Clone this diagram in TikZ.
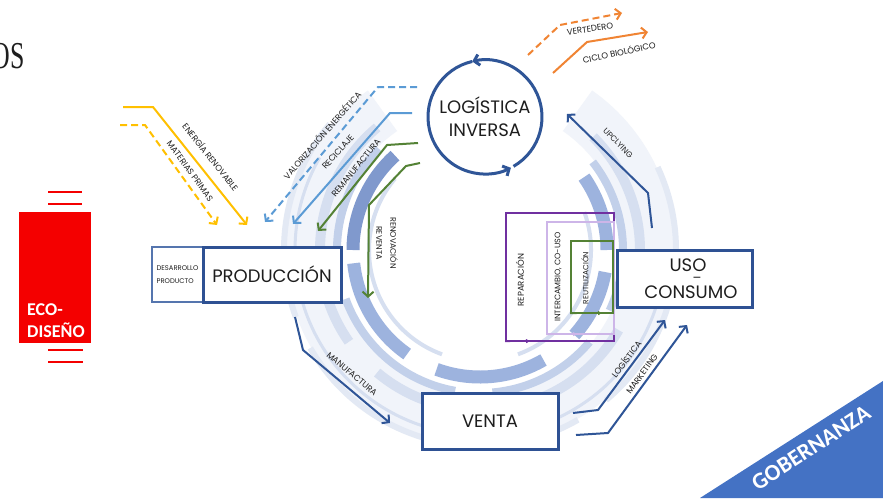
\documentclass[tikz,border=0pt]{standalone}
\usepackage{fontspec}
\setmainfont{Poppins}
\newfontfamily\carl{Carlito}
\newfontfamily\serifos{Liberation Serif}
\usetikzlibrary{arrows.meta}
\definecolor{boxblue}{HTML}{2E5193}
\definecolor{dblue}{HTML}{2F5597}
\definecolor{lblue}{HTML}{5B9BD5}
\definecolor{ylw}{HTML}{FFC000}
\definecolor{grn}{HTML}{548235}
\definecolor{org}{HTML}{F08433}
\definecolor{purp}{HTML}{7030A0}
\definecolor{lpurp}{HTML}{CDB5E8}
\definecolor{ecored}{HTML}{F40000}
\definecolor{gob}{HTML}{4472C4}
\definecolor{desblue}{HTML}{5575AE}
\definecolor{rgA}{HTML}{F1F4FA}
\definecolor{rgB}{HTML}{E3E9F4}
\definecolor{rgC}{HTML}{D6DFF0}
\definecolor{rgD}{HTML}{C2D0EA}
\definecolor{rgE}{HTML}{9DB3DE}
\definecolor{rgF}{HTML}{8099CD}
\definecolor{txt}{HTML}{1E1E1E}
\newcommand\fs[1]{\fontsize{#1}{#1}\selectfont}
\newcommand\ringarc[5]{\draw[line width=#4pt, draw=#5] (rc) ++(#1:#3pt) arc[start angle=#1, end angle=#2, radius=#3pt];}
\tikzset{
  flow/.style={line width=2pt, -{Straight Barb[length=5pt,width=11pt]}},
  dsh/.style={dash pattern=on 7pt off 4pt},
  lab/.style={font=\fs{8.5}, text=txt, inner sep=0pt},
  mainbox/.style={draw=boxblue, line width=3pt, fill=white, font=\fs{18}, text=txt, inner sep=0pt},
  loopbox/.style={line width=2pt, inner sep=0pt},
  tipmark/.style={-{Triangle[length=4pt,width=4pt]}}
}
\begin{document}
\begin{tikzpicture}[x=1pt,y=-1pt]
\useasboundingbox (0,0) rectangle (883,498);
\fill[white] (0,0) rectangle (883,498);
\coordinate (rc) at (480,250);
% decorative rings
\ringarc{125}{415}{170}{50}{rgA}
\ringarc{140}{200}{196}{6}{rgB}
\ringarc{210}{300}{196}{6}{rgB}
\ringarc{310}{385}{196}{6}{rgB}
\ringarc{150}{260}{185}{3}{rgC}
\ringarc{280}{350}{185}{3}{rgC}
\ringarc{130}{215}{160}{10}{rgC}
\ringarc{230}{330}{160}{10}{rgC}
\ringarc{345}{405}{160}{10}{rgC}
\ringarc{135}{190}{143}{8}{rgD}
\ringarc{200}{260}{143}{8}{rgD}
\ringarc{275}{320}{143}{8}{rgD}
\ringarc{335}{398}{143}{8}{rgD}
\ringarc{132}{180}{127}{13}{rgF}
\ringarc{186}{235}{127}{13}{rgE}
\ringarc{250}{300}{127}{13}{rgE}
\ringarc{318}{350}{127}{13}{rgE}
\ringarc{360}{395}{127}{13}{rgE}
\ringarc{140}{250}{111}{4}{rgC}
\ringarc{290}{380}{111}{4}{rgC}

% title fragment
\node[font=\serifos\fs{38}, anchor=east, xscale=0.68, inner sep=0pt, text=txt] (os) at (25,56) {OS};

% ECO-DISENO
\node[fill=ecored, minimum width=72, minimum height=131, anchor=north west, inner sep=0pt] (eco) at (19,212) {};
\node[font=\carl\bfseries\fontsize{18}{22}\selectfont, text=white, align=left, anchor=west, inner sep=0pt] (ecot) at (27,321) {ECO-\\DISEÑO};
\draw[ecored, line width=1.5pt] (48,192) -- (82,192) (48,204) -- (82,204) (48,350) -- (83,350) (48,362) -- (83,362);

% main boxes
\node[draw=desblue, line width=1.2pt, fill=white, minimum width=51, minimum height=55, inner sep=0pt, font=\fontsize{6.8}{13}\selectfont, text=txt, align=left] (des) at (177.5,274.5) {DESARROLLO\\PRODUCTO};
\node[mainbox, minimum width=138, minimum height=55] (prod) at (272,274.5) {PRODUCCIÓN};
\node[mainbox, minimum width=136, minimum height=56] (venta) at (490,421) {VENTA};

% loop boxes
\node[loopbox, draw=purp, minimum width=108, minimum height=128] (rep) at (560,277) {};
\node[loopbox, draw=lpurp, minimum width=67, minimum height=112] (inter) at (580.5,278) {};
\node[loopbox, draw=grn, minimum width=42, minimum height=72] (reut) at (592,277) {};
\draw[purp, tipmark] (rep.south west) -- (530,341);
\draw[lpurp, tipmark] (inter.south west) -- (577,334);
\draw[grn, tipmark] (reut.south west) -- (602,313);
\node[lab, rotate=90, font=\fs{8.5}] (repl) at (520,280) {REPARACIÓN};
\node[lab, rotate=90, font=\fs{8}] (interl) at (558,277) {INTERCAMBIO, CO-USO};
\node[lab, rotate=90, font=\fs{7.5}] (reutl) at (585,278) {REUTILIZACIÓN};

\node[mainbox, minimum width=135, minimum height=57] (uso) at (684.5,278.5) {};
\node[font=\fs{18}, text=txt, inner sep=0pt, anchor=base] (usot) at (688,271) {USO};
\node[font=\fs{18}, text=txt, inner sep=0pt, anchor=base] (cons) at (691,298) {CONSUMO};
\node[font=\fs{13}, text=txt, inner sep=0pt] (dash) at (697,280) {–};

% LOGISTICA INVERSA circle
\node[circle, fill=white, minimum size=112, inner sep=0pt, font=\fontsize{18}{23}\selectfont, text=txt, align=center] (li) at (485,117) {LOGÍSTICA\\INVERSA};
\draw[dblue, line width=3pt, -{Straight Barb[length=5pt,width=11pt]}] (li.center) ++(-60:57pt) arc[start angle=-60, end angle=103, radius=57pt];
\draw[dblue, line width=3pt, -{Straight Barb[length=5pt,width=11pt]}] (li.center) ++(103:57pt) arc[start angle=103, end angle=297, radius=57pt];

% coordinates of flows
\coordinate (en1) at (123,107); \coordinate (en2) at (153,107); \coordinate (en3) at (247,225);
\coordinate (mp1) at (120,125); \coordinate (mp2) at (145,125); \coordinate (mp3) at (217,225);
\coordinate (va1) at (417,87); \coordinate (va2) at (378,87); \coordinate (va3) at (265,222);
\coordinate (re1) at (412,113); \coordinate (re2) at (390,113); \coordinate (re3) at (293,224);
\coordinate (rm1) at (418,143); \coordinate (rm2) at (387,145); \coordinate (rm3) at (318,231);
\coordinate (rn1) at (420,163); \coordinate (rn2) at (406,166); \coordinate (rn3) at (369,205); \coordinate (rn4) at (368,298);
\coordinate (ve1) at (528,55); \coordinate (ve2) at (560,25); \coordinate (ve3) at (622,13);
\coordinate (ci1) at (553,73); \coordinate (ci2) at (587,42); \coordinate (ci3) at (648,32);
\coordinate (up1) at (652,228); \coordinate (up2) at (648,193); \coordinate (up3) at (567,114);
\coordinate (ma1) at (295,317); \coordinate (ma2) at (303,350); \coordinate (ma3) at (390,423);
\coordinate (lo1) at (573,413); \coordinate (lo2) at (598,410); \coordinate (lo3) at (665,320);
\coordinate (mk1) at (576,435); \coordinate (mk2) at (608,433); \coordinate (mk3) at (687,325);

\draw[flow, ylw] (en1) -- (en2) -- (en3);
\draw[flow, ylw, dsh] (mp1) -- (mp2) -- (mp3);
\draw[flow, lblue, dsh] (va1) -- (va2) -- (va3);
\draw[flow, lblue] (re1) -- (re2) -- (re3);
\draw[flow, grn] (rm1) -- (rm2) -- (rm3);
\draw[flow, grn] (rn1) -- (rn2) -- (rn3) -- (rn4);
\draw[flow, org, dsh] (ve1) -- (ve2) -- (ve3);
\draw[flow, org] (ci1) -- (ci2) -- (ci3);
\draw[flow, dblue] (up1) -- (up2) -- (up3);
\draw[flow, dblue] (ma1) -- (ma2) -- (ma3);
\draw[flow, dblue] (lo1) -- (lo2) -- (lo3);
\draw[flow, dblue] (mk1) -- (mk2) -- (mk3);

% flow labels
\node[lab, rotate=-51.5] (enl) at (211,157) {ENERGÍA RENOVABLE};
\node[lab, rotate=-54] (mpl) at (190,171) {MATERIAS PRIMAS};
\node[lab, rotate=49] (val) at (322,135) {VALORIZACIÓN ENERGÉTICA};
\node[lab, rotate=48] (rel) at (338,152) {RECICLAJE};
\node[lab, rotate=51] (rml) at (356,168) {REMANUFACTURA};
\node[lab, rotate=-90, align=center, font=\fontsize{8}{14}\selectfont] (rnl) at (387,243) {RENOVACIÓN\\REVENTA};
\node[lab, rotate=8] (vel) at (590,29) {VERTEDERO};
\node[lab, rotate=12] (cil) at (619,52) {CICLO BIOLÓGICO};
\node[lab, rotate=-45, font=\fs{8}] (upl) at (618,143) {UPCLYING};
\node[lab, rotate=-40] (mal) at (352,374) {MANUFACTURA};
\node[lab, rotate=53] (lol) at (626,359) {LOGÍSTICA};
\node[lab, rotate=54] (mkl) at (642,374) {MARKETING};

% GOBERNANZA
\fill[gob] (883,381) -- (883,498) -- (700,498) -- cycle;
\node[font=\carl\bfseries\fs{23}, text=white, rotate=33, inner sep=0pt] (gobt) at (811,448) {GOBERNANZA};
\end{tikzpicture}
\end{document}
